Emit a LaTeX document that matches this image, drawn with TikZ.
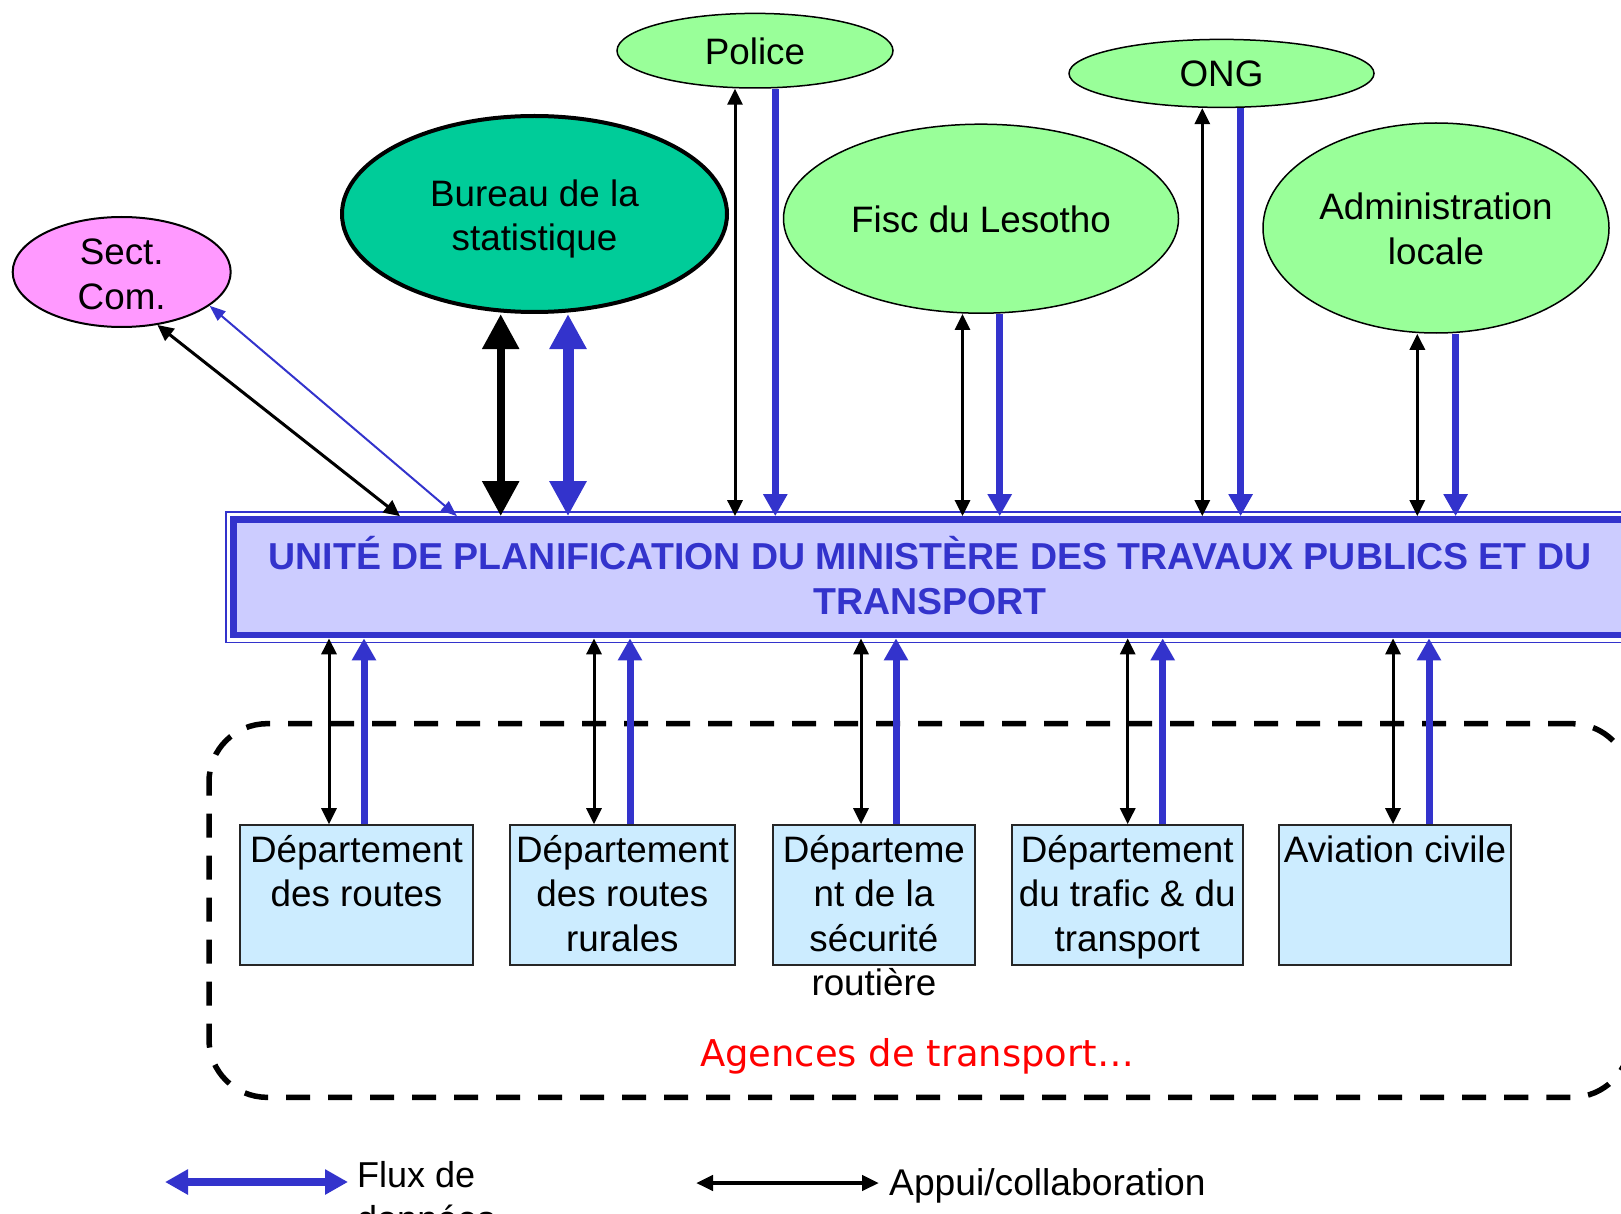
\documentclass[tikz,border=0pt]{standalone}
\usepackage{fontspec}
\setmainfont{Liberation Sans}
\newfontfamily\dejavu{DejaVu Sans}
\usetikzlibrary{arrows.meta,shapes.geometric,calc}
\definecolor{blu}{RGB}{51,51,204}
\definecolor{mainfill}{RGB}{204,204,255}
\definecolor{deptfill}{RGB}{204,236,255}
\definecolor{pinkfill}{RGB}{255,153,255}
\definecolor{greenfill}{RGB}{153,255,153}
\definecolor{bureaufill}{RGB}{0,204,153}
\definecolor{agred}{RGB}{255,0,0}
\begin{document}
\begin{tikzpicture}[x=1pt,y=-1pt,
  txt/.style={font=\fontsize{36.8}{44.5}\selectfont, align=center, inner sep=0pt},
  ell/.style={ellipse, draw=black, inner sep=0pt, line width=1.5pt},
  dept/.style={rectangle, draw=black!85, fill=deptfill, line width=1.6pt, inner sep=0pt, minimum height=140pt},
  blk/.style={draw=black, line width=3pt, {Triangle[length=16pt,width=15pt]}-{Triangle[length=16pt,width=15pt]}},
  bflow/.style={draw=blu, line width=7pt, -{Triangle[length=22pt,width=23pt]}},
]
\useasboundingbox (0,0) rectangle (1621,1214);
\clip (0,0) rectangle (1621,1214);

% dashed group
\node[draw=black, line width=5.5pt, dash pattern=on 24pt off 18pt, rounded corners=58pt,
      minimum width=1421pt, minimum height=373.6pt, inner sep=0pt] (agencies) at (919.5,910.5) {};
\node[font=\dejavu\fontsize{36.9}{44}\selectfont, text=agred, anchor=base, inner sep=0pt] (agtxt) at (917,1066.7) {Agences de transport…};

% main box
\node[draw=blu, line width=6.7pt, fill=mainfill, minimum width=1395pt, minimum height=115.5pt, inner sep=0pt] (main) at (930.8,577.25) {};
\draw[blu, line width=1.6pt] ([shift={(-4pt,4pt)}]main.north west) rectangle ([shift={(4pt,-4pt)}]main.south east);
\node[font=\bfseries\fontsize{37.5}{45}\selectfont, text=blu, align=center, anchor=base, inner sep=0pt] (maintext) at (930,614)
  {UNITÉ DE PLANIFICATION DU MINISTÈRE DES TRAVAUX PUBLICS ET DU\\TRANSPORT};

% ellipses
\node[ell, fill=pinkfill, line width=2pt, minimum width=218pt, minimum height=110pt] (sc) at (121.7,272) {};
\node[txt, yshift=-2.5pt] (sct) at (sc) {Sect.\\Com.};
\node[ell, fill=bureaufill, line width=4pt, minimum width=385pt, minimum height=196pt] (bur) at (534.5,214) {};
\node[txt, yshift=-5pt] (burt) at (bur) {Bureau de la\\statistique};
\node[ell, fill=greenfill, minimum width=276pt, minimum height=74.6pt] (pol) at (755,50.7) {};
\node[txt, yshift=-1pt] (polt) at (pol) {Police};
\node[ell, fill=greenfill, minimum width=305pt, minimum height=68pt] (ong) at (1221.5,73.4) {};
\node[txt] (ongt) at (ong) {ONG};
\node[ell, fill=greenfill, minimum width=395pt, minimum height=189pt] (fisc) at (981,218.7) {};
\node[txt, yshift=-1pt] (fisct) at (fisc) {Fisc du Lesotho};
\node[ell, fill=greenfill, minimum width=346pt, minimum height=210pt] (adm) at (1436,228) {};
\node[txt, yshift=-1pt] (admt) at (adm) {Administration\\locale};

% department boxes
\node[dept, minimum width=233pt] (d1) at (356.5,895) {};
\node[dept, minimum width=225.3pt] (d2) at (622.4,895) {};
\node[dept, minimum width=202.3pt] (d3) at (873.9,895) {};
\node[dept, minimum width=231pt] (d4) at (1127.2,895) {};
\node[dept, minimum width=232pt] (d5) at (1395,895) {};
\node[txt, anchor=base] (d1t) at (356.5,906.5) {Département\\des routes};
\node[txt, anchor=base] (d2t) at (622.4,951) {Département\\des routes\\rurales};
\node[txt, anchor=base] (d3t) at (873.9,995.5) {Départeme\\nt de la\\sécurité\\routière};
\node[txt, anchor=base] (d4t) at (1127.2,951) {Département\\du trafic \& du\\transport};
\node[txt, anchor=base] (d5t) at (1395,862) {Aviation civile};

% Sect. Com. links
\draw[blk] (sc.-56.6) -- ([xshift=170pt]main.north west);
\draw[draw=blu, line width=2pt, {Triangle[length=16pt,width=12pt]}-{Triangle[length=16pt,width=12pt]}]
  (sc.-21.3) -- ([xshift=227pt]main.north west);

% Bureau links
\draw[draw=black, line width=8.3pt, {Triangle[length=35pt,width=35pt]}-{Triangle[length=35pt,width=35pt]}]
  ([xshift=-33.8pt]bur.south) -- ([xshift=-33.8pt]bur.south |- main.north);
\draw[draw=blu, line width=11pt, {Triangle[length=35pt,width=35pt]}-{Triangle[length=35pt,width=35pt]}]
  ([xshift=33.5pt]bur.south) -- ([xshift=33.5pt]bur.south |- main.north);

% other top links
\draw[blk] ([xshift=-20pt]pol.south) -- ([xshift=-20pt]pol.south |- main.north);
\draw[bflow] ([xshift=20.3pt]pol.south) -- ([xshift=20.3pt]pol.south |- main.north);
\draw[blk] ([xshift=-18.5pt]fisc.south) -- ([xshift=-18.5pt]fisc.south |- main.north);
\draw[bflow] ([xshift=18.7pt]fisc.south) -- ([xshift=18.7pt]fisc.south |- main.north);
\draw[blk] ([xshift=-19.2pt]ong.south) -- ([xshift=-19.2pt]ong.south |- main.north);
\draw[bflow] ([xshift=19.1pt]ong.south) -- ([xshift=19.1pt]ong.south |- main.north);
\draw[blk] ([xshift=-18.7pt]adm.south) -- ([xshift=-18.7pt]adm.south |- main.north);
\draw[bflow] ([xshift=19.6pt]adm.south) -- ([xshift=19.6pt]adm.south |- main.north);

% bottom links
\draw[blk] ([xshift=-27.5pt]d1.north) -- ([xshift=-27.5pt]d1.north |- main.south);
\draw[bflow] ([xshift=7.5pt]d1.north) -- ([xshift=7.5pt]d1.north |- main.south);
\draw[blk] ([xshift=-28.4pt]d2.north) -- ([xshift=-28.4pt]d2.north |- main.south);
\draw[bflow] ([xshift=7.6pt]d2.north) -- ([xshift=7.6pt]d2.north |- main.south);
\draw[blk] ([xshift=-12.9pt]d3.north) -- ([xshift=-12.9pt]d3.north |- main.south);
\draw[bflow] ([xshift=22.1pt]d3.north) -- ([xshift=22.1pt]d3.north |- main.south);
\draw[blk] ([xshift=0.5pt]d4.north) -- ([xshift=0.5pt]d4.north |- main.south);
\draw[bflow] ([xshift=35.5pt]d4.north) -- ([xshift=35.5pt]d4.north |- main.south);
\draw[blk] ([xshift=-2pt]d5.north) -- ([xshift=-2pt]d5.north |- main.south);
\draw[bflow] ([xshift=34pt]d5.north) -- ([xshift=34pt]d5.north |- main.south);

% legend
\coordinate (lb1) at (165,1182);
\coordinate (lb2) at (348,1182);
\draw[draw=blu, line width=8pt, {Triangle[length=23pt,width=24pt]}-{Triangle[length=23pt,width=24pt]}] (lb1) -- (lb2);
\node[font=\fontsize{36}{44.5}\selectfont, align=left, anchor=base west, inner sep=0pt] (lbt) at (357,1231.5) {Flux de\\données};
\coordinate (lk1) at (696,1183);
\coordinate (lk2) at (879,1183);
\draw[draw=black, line width=4.5pt, {Triangle[length=17pt,width=15pt]}-{Triangle[length=17pt,width=15pt]}] (lk1) -- (lk2);
\node[font=\fontsize{37.2}{44.5}\selectfont, anchor=base west, inner sep=0pt] (lkt) at (889,1195) {Appui/collaboration};
\end{tikzpicture}
\end{document}
